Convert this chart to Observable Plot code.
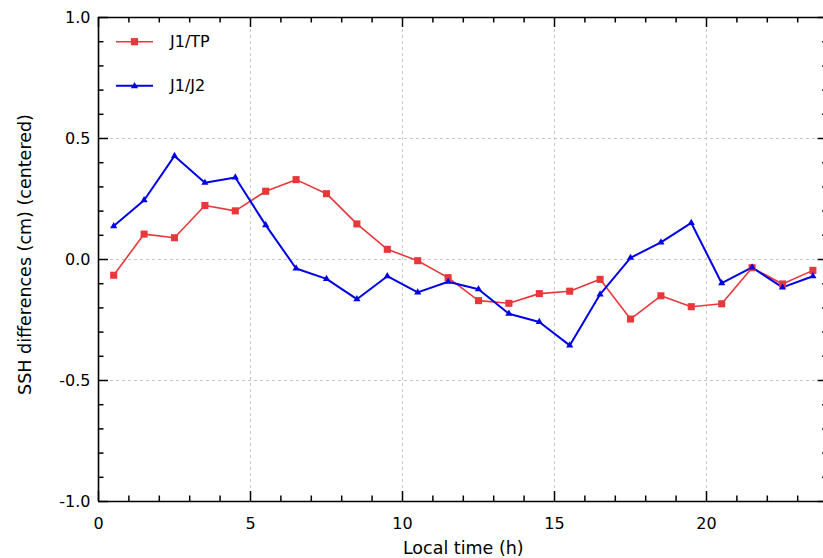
<!DOCTYPE html>
<html>
<head>
<meta charset="utf-8">
<script src="https://cdn.jsdelivr.net/npm/d3@7"></script>
<script src="https://cdn.jsdelivr.net/npm/@observablehq/plot@0.6"></script>
<style>
  html, body { margin: 0; padding: 0; background: white; }
  #chart svg { overflow: hidden; }
</style>
</head>
<body>
<div id="chart"></div>
<script>
// ---- data ----
const hours = [0.5, 1.5, 2.5, 3.5, 4.5, 5.5, 6.5, 7.5, 8.5, 9.5, 10.5, 11.5,
               12.5, 13.5, 14.5, 15.5, 16.5, 17.5, 18.5, 19.5, 20.5, 21.5, 22.5, 23.5];
const j1tp = [-0.065, 0.105, 0.090, 0.223, 0.201, 0.282, 0.330, 0.272, 0.147, 0.042, -0.005, -0.075,
              -0.170, -0.181, -0.141, -0.131, -0.082, -0.246, -0.150, -0.195, -0.183, -0.034, -0.101, -0.045];
const j1j2 = [0.138, 0.245, 0.428, 0.317, 0.339, 0.142, -0.037, -0.080, -0.164, -0.069, -0.136, -0.092,
              -0.123, -0.224, -0.258, -0.355, -0.144, 0.007, 0.071, 0.151, -0.098, -0.033, -0.115, -0.069];
const seriesNames = ["J1/TP", "J1/J2"];
const xTicks = [0, 5, 10, 15, 20];
const yTicks = [-1, -0.5, 0, 0.5, 1];
const xGrid = [5, 10, 15, 20];
const yGrid = [-0.5, 0, 0.5];
const xMinor = d3.range(1, 25).filter(d => d % 5 !== 0);
const yMinor = d3.range(-9, 10).filter(d => d % 5 !== 0).map(d => d / 10);
const xTitle = "Local time (h)";
const yTitle = "SSH differences (cm) (centered)";

// ---- styling ----
const RED = "#e8383b";
const BLUE = "#0000e6";
const colors = [RED, BLUE];
const symbols = [d3.symbolSquare, d3.symbolTriangle];
const symbolSizes = [52, 22];

const tp = hours.map((h, i) => ({h, v: j1tp[i]}));
const j2 = hours.map((h, i) => ({h, v: j1j2[i]}));

const W = 823, H = 558;
const mL = 98, mT = 17, mB = 57, mR = -4.6;
const frameH = H - mT - mB;
const frameW = W - mL - mR;

function legend(index, scales, values, dims) {
  const g = d3.create("svg:g");
  const x0 = dims.marginLeft, y0 = dims.marginTop;
  seriesNames.forEach((name, i) => {
    const yy = y0 + 24.7 + i * 44;
    g.append("line")
      .attr("x1", x0 + 18).attr("x2", x0 + 55)
      .attr("y1", yy).attr("y2", yy)
      .attr("stroke", colors[i]).attr("stroke-width", i === 0 ? 1.6 : 2);
    g.append("path")
      .attr("transform", `translate(${x0 + 36.5},${yy + (i === 1 ? 0.5 : 0)})`)
      .attr("d", d3.symbol(symbols[i], symbolSizes[i])())
      .attr("fill", colors[i]);
    g.append("text")
      .attr("x", x0 + 72).attr("y", yy)
      .attr("dy", "0.35em")
      .attr("text-anchor", "start")
      .attr("font-size", 16)
      .attr("fill", "black")
      .text(name);
  });
  return g.node();
}

const chart = Plot.plot({
  width: W,
  height: H,
  marginLeft: mL,
  marginTop: mT,
  marginBottom: mB,
  marginRight: mR,
  style: {fontFamily: "DejaVu Sans", fontSize: "16px", color: "black", background: "white"},
  x: {domain: [0, 24]},
  y: {domain: [-1, 1]},
  marks: [
    // grid
    Plot.ruleX(xGrid, {stroke: "#c8c8c8", strokeWidth: 1, strokeDasharray: "3,3"}),
    Plot.ruleY(yGrid, {stroke: "#c8c8c8", strokeWidth: 1, strokeDasharray: "3,3"}),
    // data
    Plot.line(tp, {x: "h", y: "v", stroke: RED, strokeWidth: 1.6}),
    Plot.line(j2, {x: "h", y: "v", stroke: BLUE, strokeWidth: 2}),
    Plot.dot(tp, {x: "h", y: "v", symbol: "square", r: 4, fill: RED, stroke: "none"}),
    Plot.dot(j2, {x: "h", y: "v", symbol: "triangle", r: 2.65, fill: BLUE, stroke: "none"}),
    // frame
    Plot.ruleX([0, 24], {stroke: "black", strokeWidth: 1.6}),
    Plot.ruleY([-1, 1], {stroke: "black", strokeWidth: 1.6}),
    // inward ticks: bottom & top
    Plot.tickX(xTicks, {x: d => d, insetTop: frameH - 10, stroke: "black", strokeWidth: 1.5}),
    Plot.tickX(xTicks, {x: d => d, insetBottom: frameH - 10, stroke: "black", strokeWidth: 1.5}),
    Plot.tickX(xMinor, {x: d => d, insetTop: frameH - 5.5, stroke: "black", strokeWidth: 1.5}),
    Plot.tickX(xMinor, {x: d => d, insetBottom: frameH - 5.5, stroke: "black", strokeWidth: 1.5}),
    // inward ticks: left & right
    Plot.tickY(yTicks, {y: d => d, insetRight: frameW - 10, stroke: "black", strokeWidth: 1.5}),
    Plot.tickY(yTicks, {y: d => d, insetLeft: frameW - 10, stroke: "black", strokeWidth: 1.5}),
    Plot.tickY(yMinor, {y: d => d, insetRight: frameW - 5.5, stroke: "black", strokeWidth: 1.5}),
    Plot.tickY(yMinor, {y: d => d, insetLeft: frameW - 5.5, stroke: "black", strokeWidth: 1.5}),
    // tick labels
    Plot.axisX({ticks: xTicks, tickSize: 0, tickPadding: 16, tickFormat: d => String(d), label: null, fontSize: 16}),
    Plot.axisY({ticks: yTicks, tickSize: 0, tickPadding: 8, tickFormat: d => d.toFixed(1), label: null, fontSize: 16}),
    // axis titles
    Plot.text([xTitle], {text: d => d, frameAnchor: "bottom", textAnchor: "middle", lineAnchor: "middle", dy: 47, fontSize: 17.5, fill: "black"}),
    Plot.text([yTitle], {text: d => d, frameAnchor: "left", textAnchor: "middle", lineAnchor: "middle", dx: -73, dy: -5, rotate: -90, fontSize: 17.5, fill: "black"}),
    // legend
    legend
  ]
});
document.getElementById("chart").appendChild(chart);
</script>
</body>
</html>
